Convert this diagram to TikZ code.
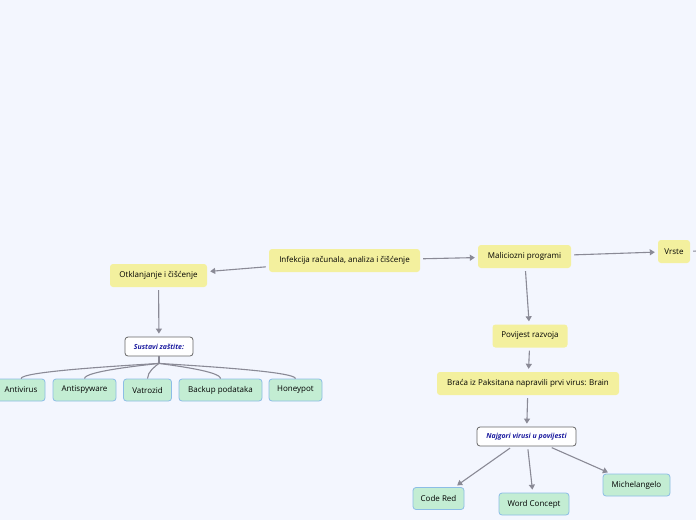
\documentclass[tikz,border=0pt]{standalone}
\usepackage{fontspec}
\setmainfont{Open Sans}
\usetikzlibrary{arrows.meta,calc}
\definecolor{bg}{HTML}{F3F6FE}
\definecolor{yel}{HTML}{F3F09E}
\definecolor{grn}{HTML}{C3EDD3}
\definecolor{grnb}{HTML}{8CBDE6}
\definecolor{edge}{HTML}{8A8A96}
\definecolor{blu}{HTML}{1C1CA0}
\tikzset{
  ybox/.style={fill=yel, rounded corners=3pt, minimum height=23pt, inner xsep=4pt, font=\fontsize{8}{9}\selectfont, text=black},
  gbox/.style={fill=grn, draw=grnb, line width=0.8pt, rounded corners=3pt, minimum height=22pt, inner xsep=3pt, font=\fontsize{8}{9}\selectfont, text=black},
  wbox/.style={fill=white, draw=black!60, line width=0.8pt, rounded corners=3pt, minimum height=19pt, inner xsep=3pt, font=\fontsize{7}{8}\selectfont\bfseries\itshape, text=blu},
  conn/.style={draw=edge, line width=1.1pt, -{Triangle[width=6pt,length=5pt]}, shorten >=3pt, shorten <=3pt},
  tree/.style={draw=edge, line width=1.1pt}
}
\begin{document}
\begin{tikzpicture}[x=1pt,y=-1pt]
\fill[bg] (0,0) rectangle (696,520);
\useasboundingbox (0,0) rectangle (696,520);
\node[ybox, minimum width=151pt] (inf) at (344.5,260.5) {Infekcija računala, analiza i čišćenje};
\node[ybox, minimum width=97pt] (otk) at (158.5,275.5) {Otklanjanje i čišćenje};
\node[ybox, minimum width=93pt] (mal) at (524.5,256.5) {Maliciozni programi};
\node[ybox, minimum width=32pt, inner xsep=3pt] (vrs) at (674,251.5) {Vrste};
\node[ybox, minimum width=75pt] (pov) at (530,336) {Povijest razvoja};
\node[ybox, minimum width=182pt] (bra) at (528,383.5) {Braća iz Paksitana napravili prvi virus: Brain};
\node[wbox, minimum width=99pt] (naj) at (526.5,436.5) {Najgori virusi u povijesti};
\node[gbox, minimum width=51pt] (cod) at (438.5,498.5) {Code Red};
\node[gbox, minimum width=70pt] (wor) at (534,504) {Word Concept};
\node[gbox, minimum width=67pt] (mic) at (636.5,485) {Michelangelo};
\node[wbox, minimum width=68pt] (sus) at (159,346.5) {Sustavi zaštite:};
\node[gbox, minimum width=48pt] (ant) at (21,390) {Antivirus};
\node[gbox, minimum width=63pt] (asp) at (84.5,390) {Antispyware};
\node[gbox, minimum width=48pt] (vat) at (147.5,390) {Vatrozid};
\node[gbox, minimum width=83pt] (bac) at (220.5,390) {Backup podataka};
\node[gbox, minimum width=53pt] (hon) at (295.5,390) {Honeypot};
\coordinate (vend) at (698,251);
\draw[conn] (inf) -- (otk);
\draw[conn] (inf) -- (mal);
\draw[conn] (mal) -- (vrs);
\draw[tree, shorten <=3pt] (vrs) -- (vend);
\draw[conn] (mal) -- (pov);
\draw[conn] (pov) -- (bra);
\draw[conn] (bra) -- (naj);
\draw[conn] (naj) -- (cod);
\draw[conn] (naj) -- (wor);
\draw[conn] (naj) -- (mic);
\draw[conn] (otk) -- (sus);
\coordinate (sb) at ([yshift=-7pt]sus.south);
\draw[tree] (sus.south) -- (sb);
\foreach \c in {ant,asp,vat,bac,hon}{
  \draw[tree] (sb) .. controls ([yshift=2pt]$(sb)!0.3!(\c.north)$) and ([yshift=7pt]\c.north) .. (\c.north);
}
\end{tikzpicture}
\end{document}
